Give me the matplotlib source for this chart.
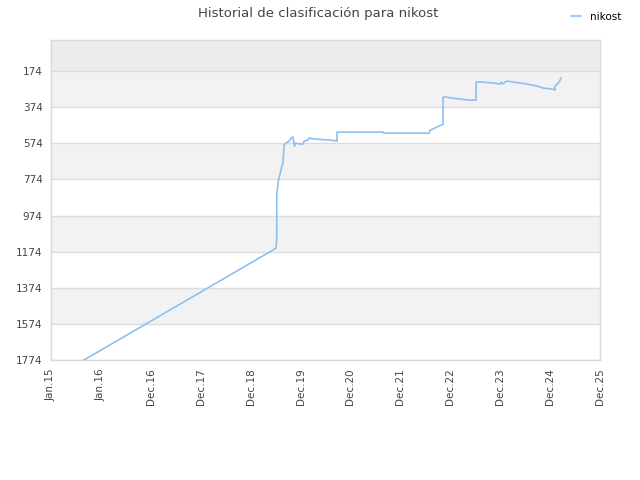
import matplotlib
matplotlib.use("Agg")
import matplotlib.pyplot as plt

title = "Historial de clasificación para nikost"
series_name = "nikost"
tick_labels = ["Jan.15", "Jan.16", "Dec.16", "Dec.17", "Dec.18", "Dec.19",
               "Dec.20", "Dec.21", "Dec.22", "Dec.23", "Dec.24", "Dec.25"]
y_ticks = [174, 374, 574, 774, 974, 1174, 1374, 1574, 1774]

x_pos = [0.661, 4.509, 4.523, 4.523, 4.549, 4.569, 4.609, 4.629, 4.649, 4.669,
         4.709, 4.770, 4.830, 4.850, 4.860, 4.870, 4.880, 4.890, 4.990, 5.050,
         5.070, 5.150, 5.170, 5.291, 5.591, 5.731, 5.731, 6.653, 6.673, 7.575,
         7.595, 7.655, 7.735, 7.856, 7.856, 7.916, 8.036, 8.196, 8.397, 8.517,
         8.517, 8.637, 8.858, 8.998, 9.018, 9.058, 9.098, 9.138, 9.259, 9.399,
         9.539, 9.739, 9.860, 10.060, 10.100, 10.100, 10.140, 10.180, 10.220]
rank = [1774, 1155, 1099, 861, 794, 767, 722, 695, 684, 584,
        573, 562, 540, 540, 562, 573, 590, 573, 578, 578,
        562, 556, 545, 551, 556, 562, 512, 512, 518, 518,
        501, 495, 484, 468, 318, 318, 324, 329, 335, 335,
        235, 235, 240, 246, 235, 246, 235, 229, 235, 240,
        246, 257, 268, 274, 279, 257, 246, 235, 213]

plt.rcParams['font.family'] = ['DejaVu Sans']
fig = plt.figure(figsize=(6.4, 4.8), dpi=100)
ax = fig.add_axes([51/640, 1-360/480, 549/640, 320/480])

y_top = 2
ax.set_xlim(0, len(tick_labels) - 1)
ax.set_ylim(1774, y_top)

# bands
ax.axhspan(y_top, 174, color="#ececec", zorder=0, lw=0)
for i in range(len(y_ticks) - 1):
    if i % 2 == 0:
        ax.axhspan(y_ticks[i], y_ticks[i+1], color="#f2f2f2", zorder=0, lw=0)
for t in y_ticks:
    ax.axhline(t, color="#dddddd", lw=1, zorder=1)

ax.plot(x_pos, rank, color="#8cc0f2", lw=1.2, zorder=3, label=series_name)

ax.set_xticks(range(len(tick_labels)))
ax.set_xticklabels(tick_labels, rotation=90, fontsize=7.5, color="#444444")
ax.set_yticks(y_ticks)
ax.set_yticklabels([str(t) for t in y_ticks], fontsize=7.5, color="#444444")
ax.tick_params(length=0, pad=6)
for s in ax.spines.values():
    s.set_color("#d8d8d8")
    s.set_linewidth(1)

fig.text(318/640, 1-13/480, title, ha="center", va="center", fontsize=9.5, color="#444444")
fig.legend(loc="upper right", bbox_to_anchor=(0.985, 0.995), frameon=False, fontsize=7.5,
           handlelength=1.0, handletextpad=0.8)

fig.savefig("out.png", dpi=100)
